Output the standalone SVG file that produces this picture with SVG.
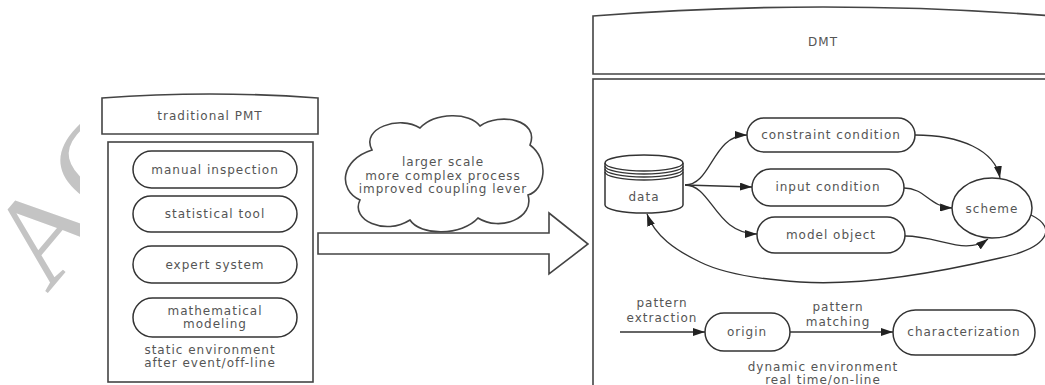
<svg xmlns="http://www.w3.org/2000/svg" width="1045" height="385" viewBox="0 0 1045 385">
<defs>
<style>
.box{fill:#fff;stroke:#444;stroke-width:1.6}
.pill{fill:#fff;stroke:#333;stroke-width:1.5}
.t{font-family:"DejaVu Sans",Verdana,sans-serif;font-size:12px;fill:#555;letter-spacing:1px;text-anchor:middle;dominant-baseline:central}
.e{fill:none;stroke:#333;stroke-width:1.3;marker-end:url(#ah)}
.wm{font-family:"Liberation Serif","Times New Roman",serif;font-size:128px;fill:#c4c4c4}
</style>
<marker id="ah" viewBox="0 0 12 8" refX="12" refY="4" markerWidth="12" markerHeight="8" markerUnits="userSpaceOnUse" orient="auto">
<path d="M0,0 L12,4 L0,8 z" fill="#222"/>
</marker>
<clipPath id="wmclip"><rect x="0" y="0" width="80" height="385"/></clipPath>
</defs>
<rect width="1045" height="385" fill="#fff"/>
<g id="watermark" clip-path="url(#wmclip)">
<text class="wm" x="47" y="294" transform="rotate(-50 47 294)">AC</text>
</g>

<g id="pmt">
<g id="pmt-title">
<path class="box" d="M102,98 Q210,90 318,98 L318,134 L102,134 Z"/>
<text class="t" x="210" y="116">traditional PMT</text>
</g>
<g id="pmt-body">
<rect class="box" x="108" y="142" width="205" height="240"/>
<text class="t" x="210" y="350">static environment</text>
<text class="t" x="210" y="363">after event/off-line</text>
</g>
<g id="manual-inspection">
<rect class="pill" x="133" y="151" width="164" height="37" rx="18.5"/>
<text class="t" x="215" y="170">manual inspection</text>
</g>
<g id="statistical-tool">
<rect class="pill" x="133" y="196" width="164" height="36" rx="18"/>
<text class="t" x="215" y="214">statistical tool</text>
</g>
<g id="expert-system">
<rect class="pill" x="133" y="246" width="164" height="37" rx="18.5"/>
<text class="t" x="215" y="265">expert system</text>
</g>
<g id="mathematical-modeling">
<rect class="pill" x="133" y="298" width="164" height="39" rx="19.5"/>
<text class="t" x="215" y="311">mathematical</text>
<text class="t" x="215" y="324">modeling</text>
</g>
</g>

<g id="transition">
<g id="cloud">
<path class="box" d="M372,150 C360,128 400,115 420,128 C435,112 470,112 480,126 C500,112 540,120 530,145 C550,160 545,190 528,195 C535,218 500,232 478,218 C462,236 420,236 410,220 C385,236 350,220 360,200 C338,190 340,160 372,150 Z"/>
<text class="t" x="443" y="162">larger scale</text>
<text class="t" x="443" y="176">more complex process</text>
<text class="t" x="443" y="189">improved coupling lever</text>
</g>
<g id="big-arrow">
<polygon class="box" points="318,233 549,233 549,213 588,244 549,274 549,254 318,254"/>
</g>
</g>

<g id="dmt">
<g id="dmt-title">
<path class="box" d="M593,16 Q823,-2 1053,16 L1053,74 L593,74 Z"/>
<text class="t" x="823" y="42">DMT</text>
</g>
<g id="dmt-body">
<rect class="box" x="593" y="79" width="460" height="320"/>
<text class="t" x="823" y="367">dynamic environment</text>
<text class="t" x="823" y="380">real time/on-line</text>
</g>
<g id="data">
<path class="pill" d="M605,163 A39,8 0 0 1 683,163 L683,205 A39,8 0 0 1 605,205 Z"/>
<path fill="none" stroke="#333" stroke-width="1.3" d="M605,163 A39,8 0 0 0 683,163 M605,166 A39,8 0 0 0 683,166 M605,169 A39,8 0 0 0 683,169 M605,172 A39,8 0 0 0 683,172"/>
<text class="t" x="644" y="197">data</text>
</g>
<g id="constraint-condition">
<rect class="pill" x="747" y="118" width="168" height="34" rx="17"/>
<text class="t" x="831" y="135">constraint condition</text>
</g>
<g id="input-condition">
<rect class="pill" x="752" y="169" width="152" height="37" rx="18.5"/>
<text class="t" x="828" y="187">input condition</text>
</g>
<g id="model-object">
<rect class="pill" x="757" y="217" width="148" height="36" rx="18"/>
<text class="t" x="831" y="235">model object</text>
</g>
<g id="scheme">
<ellipse class="pill" cx="992" cy="208" rx="40" ry="30"/>
<text class="t" x="992" y="209">scheme</text>
</g>
<g id="origin">
<rect class="pill" x="705" y="313" width="85" height="38" rx="19"/>
<text class="t" x="747" y="332">origin</text>
</g>
<g id="characterization">
<rect class="pill" x="893" y="310" width="142" height="45" rx="22.5"/>
<text class="t" x="964" y="332">characterization</text>
</g>
</g>

<g id="connectors">
<path class="e" d="M685,185 C712,185 712,135 747,135"/>
<path class="e" d="M685,185 L752,187"/>
<path class="e" d="M685,185 C712,185 715,234 757,234"/>
<path class="e" d="M915,135 C960,135 995,150 1000,178"/>
<path class="e" d="M904,188 C925,188 930,207 952,208"/>
<path class="e" d="M905,236 C940,236 965,256 988,239"/>
<path class="e" d="M1031,215 C1058,228 1048,248 1000,258 C940,272 860,286 800,282 C755,279 720,272 700,262 C675,250 655,236 647,214"/>
<path class="e" d="M620,332 L705,332"/>
<text class="t" x="662" y="303">pattern</text>
<text class="t" x="662" y="318">extraction</text>
<path class="e" d="M790,332 L893,332"/>
<text class="t" x="838" y="307">pattern</text>
<text class="t" x="838" y="322">matching</text>
</g>
</svg>
